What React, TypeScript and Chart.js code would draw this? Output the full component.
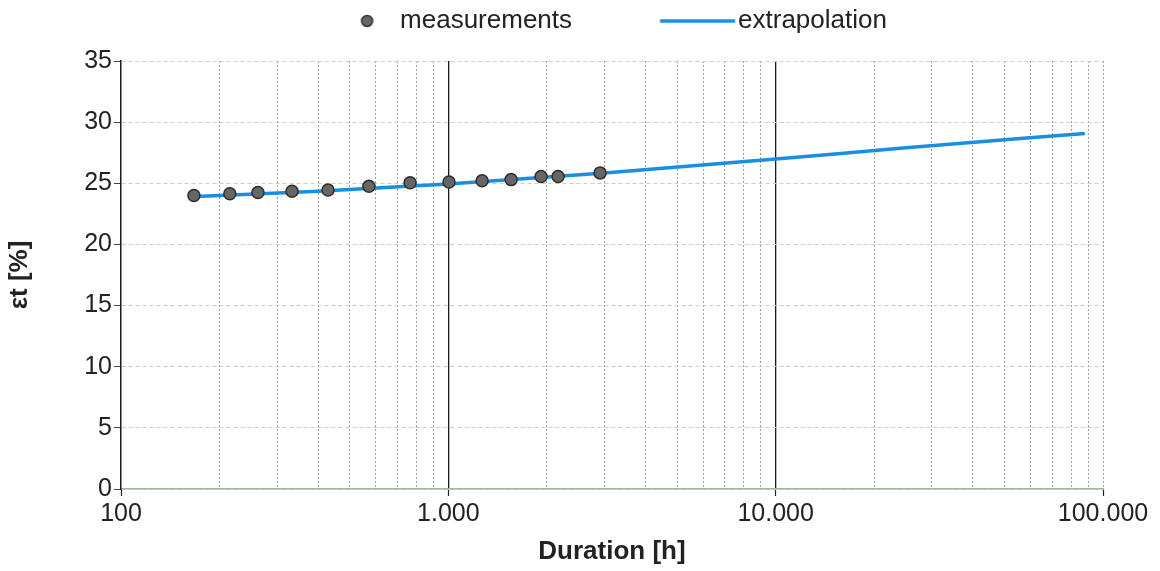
import React, { useEffect, useRef } from "react";
import { Chart, registerables } from "chart.js";

Chart.register(...registerables);

// ---- data ----
const xMeasured = [167, 215, 262, 333, 429, 572, 764, 1005, 1268, 1555, 1920, 2164, 2908];
const yMeasured = [24.0, 24.15, 24.25, 24.35, 24.45, 24.75, 25.05, 25.1, 25.2, 25.3, 25.55, 25.55, 25.85];

const xExtrapolation = [162, 400, 1000, 3000, 10000, 24000, 88000];
const yExtrapolation = [23.9, 24.35, 24.95, 25.85, 26.98, 27.86, 29.08];

const xMajorTicks = [100, 1000, 10000, 100000];
const xTickLabels = ["100", "1.000", "10.000", "100.000"];
const xMinorMultipliers = [2, 3, 4, 5, 6, 7, 8, 9];
const xInnerMajor = [1000, 10000];

const yMin = 0;
const yMax = 35;
const yStep = 5;

const seriesNames = ["measurements", "extrapolation"];

const FONT = "'Liberation Sans', Arial, Helvetica, sans-serif";
const LINE_BLUE = "#1a8ee0";
const LEGEND_H = 61;

function allXTicks(): number[] {
  const out: number[] = [];
  for (let i = 0; i < xMajorTicks.length; i++) {
    out.push(xMajorTicks[i]);
    if (i < xMajorTicks.length - 1) {
      for (const m of xMinorMultipliers) out.push(m * xMajorTicks[i]);
    }
  }
  return out;
}

export default function App() {
  const ref = useRef<HTMLCanvasElement | null>(null);

  useEffect(() => {
    document.body.style.margin = "0";
    document.body.style.background = "#ffffff";
    if (!ref.current) return;

    // legend marker images
    const dot = document.createElement("canvas");
    dot.width = 120;
    dot.height = 16;
    {
      const c = dot.getContext("2d")!;
      c.beginPath();
      c.arc(112.5, 8, 5.5, 0, Math.PI * 2);
      c.fillStyle = "#666666";
      c.fill();
      c.lineWidth = 1.5;
      c.strokeStyle = "#333333";
      c.stroke();
    }
    const line = document.createElement("canvas");
    line.width = 168;
    line.height = 4;
    {
      const c = line.getContext("2d")!;
      c.fillStyle = LINE_BLUE;
      c.fillRect(91.5, 0.25, 75, 3.5);
    }

    const legendFix = {
      id: "legendFix",
      beforeLayout(chart: any) {
        const lg = chart.legend;
        if (lg && !lg._fixed) {
          const orig = lg.fit;
          lg.fit = function () {
            orig.call(this);
            this.height = LEGEND_H;
          };
          lg._fixed = true;
        }
      },
    };

    const tickSet = allXTicks();

    const chart = new Chart(ref.current, {
      type: "scatter",
      data: {
        datasets: [
          {
            label: seriesNames[0],
            data: xMeasured.map((x, i) => ({ x, y: yMeasured[i] })),
            pointRadius: 6,
            pointHoverRadius: 6,
            pointBackgroundColor: "#666666",
            pointBorderColor: "#2e2e2e",
            pointBorderWidth: 1.5,
            showLine: false,
          },
          {
            label: seriesNames[1],
            data: xExtrapolation.map((x, i) => ({ x, y: yExtrapolation[i] })),
            showLine: true,
            pointRadius: 0,
            borderColor: LINE_BLUE,
            backgroundColor: LINE_BLUE,
            borderWidth: 3.5,
            cubicInterpolationMode: "monotone",
          } as any,
        ],
      },
      options: {
        responsive: false,
        animation: false,
        devicePixelRatio: 1,
        layout: { padding: { left: 26, right: 57, top: 0, bottom: 0 } },
        plugins: {
          tooltip: { enabled: false },
          legend: {
            position: "top",
            align: "center",
            labels: {
              usePointStyle: true,
              pointStyleWidth: 145,
              padding: 8,
              color: "#222222",
              font: { size: 26, family: FONT },
              generateLabels: (ch: any) => {
                const items = (Chart.defaults.plugins.legend.labels as any).generateLabels(ch);
                if (items[0]) items[0].pointStyle = dot;
                if (items[1]) items[1].pointStyle = line;
                return items;
              },
            },
          },
        },
        scales: {
          x: {
            type: "logarithmic",
            position: "bottom",
            min: xMajorTicks[0],
            max: xMajorTicks[xMajorTicks.length - 1],
            afterBuildTicks: (s: any) => {
              s.ticks = tickSet.map((v) => ({ value: v, major: xMajorTicks.includes(v) }));
            },
            afterFit: (s: any) => {
              s.height = 82;
            },
            ticks: {
              autoSkip: false,
              maxRotation: 0,
              padding: 3,
              color: "#222222",
              font: { size: 25, family: FONT },
              callback: (value: any) => {
                const i = xMajorTicks.indexOf(Number(value));
                return i >= 0 ? xTickLabels[i] : "";
              },
            },
            grid: {
              display: true,
              drawOnChartArea: true,
              drawTicks: true,
              tickLength: 7,
              lineWidth: 1,
              color: (ctx: any) => {
                const v = ctx.tick ? ctx.tick.value : 0;
                if (v === xMajorTicks[0] || xInnerMajor.includes(v)) return "rgba(0,0,0,0)";
                return "#9c9c9c";
              },
              tickColor: (ctx: any) => {
                const v = ctx.tick ? ctx.tick.value : 0;
                return xMajorTicks.includes(v) ? "#222222" : "rgba(0,0,0,0)";
              },
              tickWidth: 1.2,
            },
            border: { display: true, color: "#9fb893", width: 1.5, dash: [2, 2] },
            title: {
              display: true,
              text: "Duration [h]",
              color: "#222222",
              font: { size: 26, weight: "bold", family: FONT },
              padding: { top: 0, bottom: 4 },
            },
          },
          x2: {
            type: "logarithmic",
            position: "bottom",
            min: xMajorTicks[0],
            max: xMajorTicks[xMajorTicks.length - 1],
            afterBuildTicks: (s: any) => {
              s.ticks = xInnerMajor.map((v) => ({ value: v }));
            },
            afterFit: (s: any) => {
              s.height = 0;
            },
            ticks: { display: false, autoSkip: false },
            grid: { drawTicks: false, color: "#1a1a1a", lineWidth: 1.3 },
            border: { display: false },
          } as any,
          y: {
            type: "linear",
            min: yMin,
            max: yMax,
            afterFit: (s: any) => {
              s.width = 95;
            },
            ticks: {
              stepSize: yStep,
              padding: 2,
              color: "#222222",
              font: { size: 25, family: FONT },
            },
            grid: {
              color: "#c6d4b9",
              lineWidth: 1,
              tickLength: 7,
              tickColor: "#444444",
            },
            border: { display: true, color: "#1a1a1a", width: 1.5, dash: [4, 3] },
            title: {
              display: true,
              text: "εt [%]",
              color: "#222222",
              font: { size: 26, weight: "bold", family: FONT },
              padding: { top: -21.6, bottom: 0 },
            },
          },
        },
      } as any,
      plugins: [legendFix],
    });

    return () => {
      chart.destroy();
    };
  }, []);

  return (
    <div style={{ width: 1160, height: 571, background: "#ffffff" }}>
      <canvas ref={ref} width={1160} height={571} style={{ display: "block" }} />
    </div>
  );
}
